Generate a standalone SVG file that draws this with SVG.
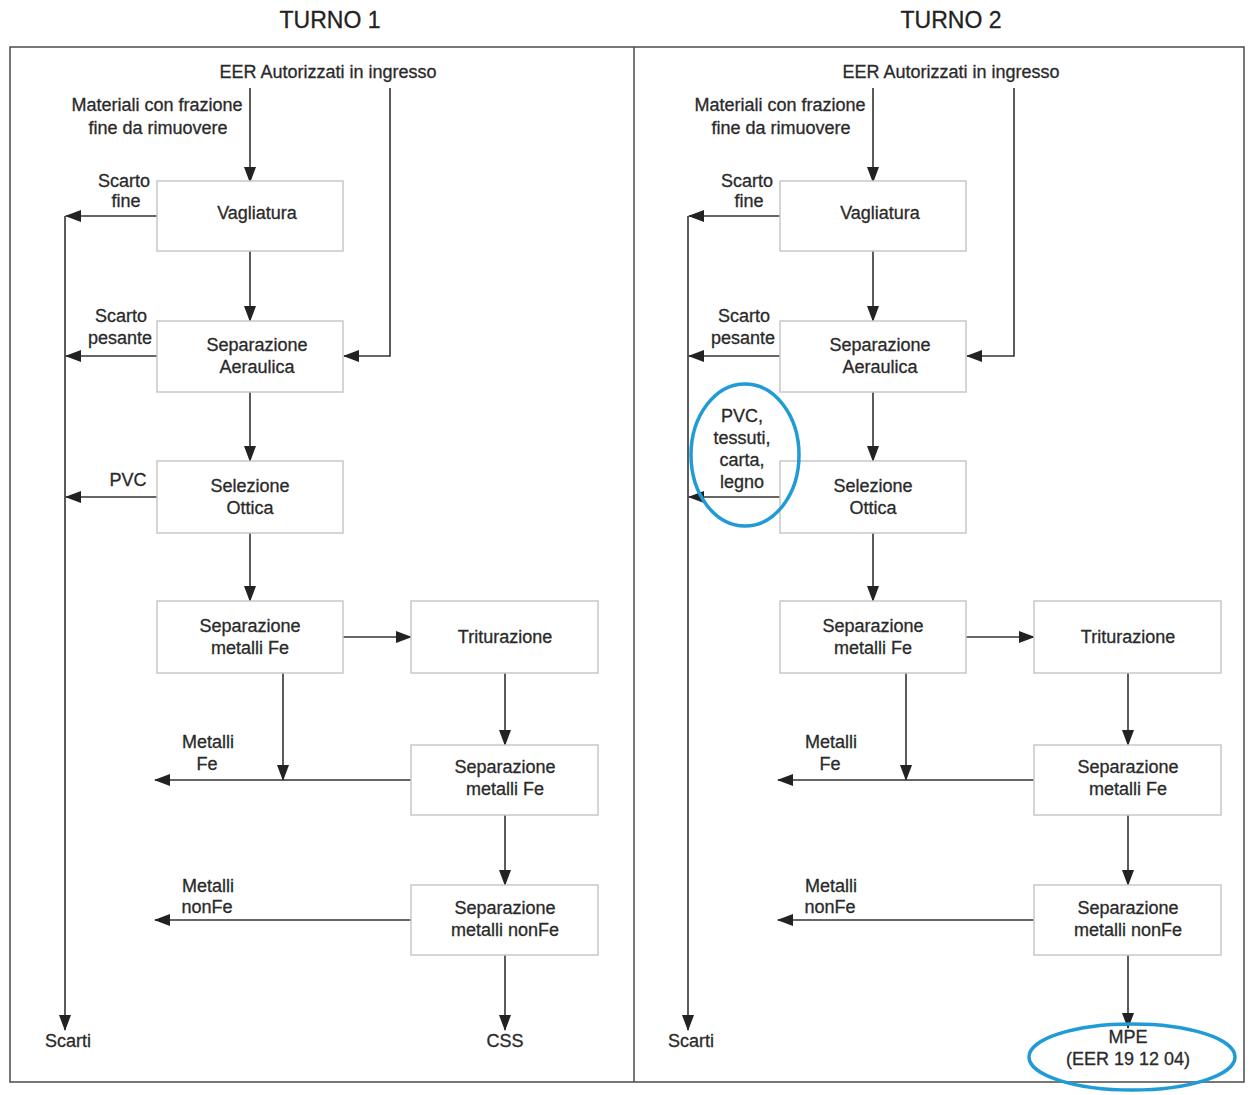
<svg xmlns="http://www.w3.org/2000/svg" width="1255" height="1095" viewBox="0 0 1255 1095">
<style>
text{font-family:"Liberation Sans",Arial,sans-serif;font-size:18px;fill:#2a2a2a;stroke:#2a2a2a;stroke-width:0.3;text-anchor:middle}
.title{font-size:23px;fill:#222;stroke:#222}
.box{fill:#fff;stroke:#c8c8c8;stroke-width:1.5}
.ln{fill:none;stroke:#333;stroke-width:1.6}
.frame{fill:none;stroke:#555;stroke-width:1.6}
.ring{fill:none;stroke:#1f9bd6;stroke-width:3.5}
</style>
<defs>
<marker id="ah" markerUnits="userSpaceOnUse" markerWidth="16" markerHeight="12" refX="15" refY="6" orient="auto">
<path d="M0,0 L16,6 L0,12 Z" fill="#222"/>
</marker>
</defs>
<rect width="1255" height="1095" fill="#fff"/>
<g id="frame">
<rect class="frame" x="10" y="47" width="1234" height="1035"/>
<line class="frame" x1="634" y1="47" x2="634" y2="1082"/>
<text class="title" x="330" y="28">TURNO 1</text>
<text class="title" x="951" y="28">TURNO 2</text>
</g>
<g id="connectors">
<path class="ln" d="M250,88 V182" marker-end="url(#ah)"/>
<path class="ln" d="M390,88 V356 H344" marker-end="url(#ah)"/>
<path class="ln" d="M157,216 H66" marker-end="url(#ah)"/>
<path class="ln" d="M65,216 V1030" marker-end="url(#ah)"/>
<path class="ln" d="M250,251 V321" marker-end="url(#ah)"/>
<path class="ln" d="M157,356 H66" marker-end="url(#ah)"/>
<path class="ln" d="M250,392 V461" marker-end="url(#ah)"/>
<path class="ln" d="M157,497 H66" marker-end="url(#ah)"/>
<path class="ln" d="M250,533 V601" marker-end="url(#ah)"/>
<path class="ln" d="M343,637 H411" marker-end="url(#ah)"/>
<path class="ln" d="M505,673 V745" marker-end="url(#ah)"/>
<path class="ln" d="M283,673 V780" marker-end="url(#ah)"/>
<path class="ln" d="M411,780 H155" marker-end="url(#ah)"/>
<path class="ln" d="M505,815 V885" marker-end="url(#ah)"/>
<path class="ln" d="M411,920 H155" marker-end="url(#ah)"/>
<path class="ln" d="M505,955 V1030" marker-end="url(#ah)"/>

<path class="ln" d="M873,88 V182" marker-end="url(#ah)"/>
<path class="ln" d="M1014,88 V356 H967" marker-end="url(#ah)"/>
<path class="ln" d="M780,216 H689" marker-end="url(#ah)"/>
<path class="ln" d="M688,216 V1030" marker-end="url(#ah)"/>
<path class="ln" d="M873,251 V321" marker-end="url(#ah)"/>
<path class="ln" d="M780,356 H689" marker-end="url(#ah)"/>
<path class="ln" d="M873,392 V461" marker-end="url(#ah)"/>
<path class="ln" d="M780,497 H689" marker-end="url(#ah)"/>
<path class="ln" d="M873,533 V601" marker-end="url(#ah)"/>
<path class="ln" d="M966,637 H1034" marker-end="url(#ah)"/>
<path class="ln" d="M1128,673 V745" marker-end="url(#ah)"/>
<path class="ln" d="M906,673 V780" marker-end="url(#ah)"/>
<path class="ln" d="M1034,780 H778" marker-end="url(#ah)"/>
<path class="ln" d="M1128,815 V885" marker-end="url(#ah)"/>
<path class="ln" d="M1034,920 H778" marker-end="url(#ah)"/>
<path class="ln" d="M1128,955 V1028" marker-end="url(#ah)"/>
</g>

<g id="t1-input"><text x="328" y="78">EER Autorizzati in ingresso</text></g>
<g id="t1-materiali"><text x="157" y="111">Materiali con frazione</text><text x="158" y="134">fine da rimuovere</text></g>
<g id="t1-vagliatura"><rect class="box" x="157" y="181" width="186" height="70"/><text x="257" y="219">Vagliatura</text></g>
<g id="t1-scartofine"><text x="124" y="187">Scarto</text><text x="126" y="207">fine</text></g>
<g id="t1-aeraulica"><rect class="box" x="157" y="321" width="186" height="71"/><text x="257" y="351">Separazione</text><text x="257" y="373">Aeraulica</text></g>
<g id="t1-scartopesante"><text x="121" y="322">Scarto</text><text x="120" y="344">pesante</text></g>
<g id="t1-ottica"><rect class="box" x="157" y="461" width="186" height="72"/><text x="250" y="492">Selezione</text><text x="250" y="514">Ottica</text></g>
<g id="t1-pvc"><text x="128" y="486">PVC</text></g>
<g id="t1-sepfe1"><rect class="box" x="157" y="601" width="186" height="72"/><text x="250" y="632">Separazione</text><text x="250" y="654">metalli Fe</text></g>
<g id="t1-triturazione"><rect class="box" x="411" y="601" width="187" height="72"/><text x="505" y="643">Triturazione</text></g>
<g id="t1-sepfe2"><rect class="box" x="411" y="745" width="187" height="70"/><text x="505" y="773">Separazione</text><text x="505" y="795">metalli Fe</text></g>
<g id="t1-metallife"><text x="208" y="748">Metalli</text><text x="207" y="770">Fe</text></g>
<g id="t1-sepnonfe"><rect class="box" x="411" y="885" width="187" height="70"/><text x="505" y="914">Separazione</text><text x="505" y="936">metalli nonFe</text></g>
<g id="t1-metallinonfe"><text x="208" y="892">Metalli</text><text x="207" y="913">nonFe</text></g>
<g id="t1-scarti"><text x="68" y="1047">Scarti</text></g>
<g id="t1-css"><text x="505" y="1047">CSS</text></g>

<g id="t2-input"><text x="951" y="78">EER Autorizzati in ingresso</text></g>
<g id="t2-materiali"><text x="780" y="111">Materiali con frazione</text><text x="781" y="134">fine da rimuovere</text></g>
<g id="t2-vagliatura"><rect class="box" x="780" y="181" width="186" height="70"/><text x="880" y="219">Vagliatura</text></g>
<g id="t2-scartofine"><text x="747" y="187">Scarto</text><text x="749" y="207">fine</text></g>
<g id="t2-aeraulica"><rect class="box" x="780" y="321" width="186" height="71"/><text x="880" y="351">Separazione</text><text x="880" y="373">Aeraulica</text></g>
<g id="t2-scartopesante"><text x="744" y="322">Scarto</text><text x="743" y="344">pesante</text></g>
<g id="t2-ottica"><rect class="box" x="780" y="461" width="186" height="72"/><text x="873" y="492">Selezione</text><text x="873" y="514">Ottica</text></g>
<g id="t2-pvc"><text x="742" y="422">PVC,</text><text x="742" y="444">tessuti,</text><text x="742" y="466">carta,</text><text x="742" y="488">legno</text><ellipse class="ring" cx="745" cy="455" rx="54" ry="71"/></g>
<g id="t2-sepfe1"><rect class="box" x="780" y="601" width="186" height="72"/><text x="873" y="632">Separazione</text><text x="873" y="654">metalli Fe</text></g>
<g id="t2-triturazione"><rect class="box" x="1034" y="601" width="187" height="72"/><text x="1128" y="643">Triturazione</text></g>
<g id="t2-sepfe2"><rect class="box" x="1034" y="745" width="187" height="70"/><text x="1128" y="773">Separazione</text><text x="1128" y="795">metalli Fe</text></g>
<g id="t2-metallife"><text x="831" y="748">Metalli</text><text x="830" y="770">Fe</text></g>
<g id="t2-sepnonfe"><rect class="box" x="1034" y="885" width="187" height="70"/><text x="1128" y="914">Separazione</text><text x="1128" y="936">metalli nonFe</text></g>
<g id="t2-metallinonfe"><text x="831" y="892">Metalli</text><text x="830" y="913">nonFe</text></g>
<g id="t2-scarti"><text x="691" y="1047">Scarti</text></g>
<g id="t2-mpe"><text x="1128" y="1043">MPE</text><text x="1128" y="1065">(EER 19 12 04)</text><ellipse class="ring" cx="1132" cy="1057" rx="103" ry="33"/></g>
</svg>
